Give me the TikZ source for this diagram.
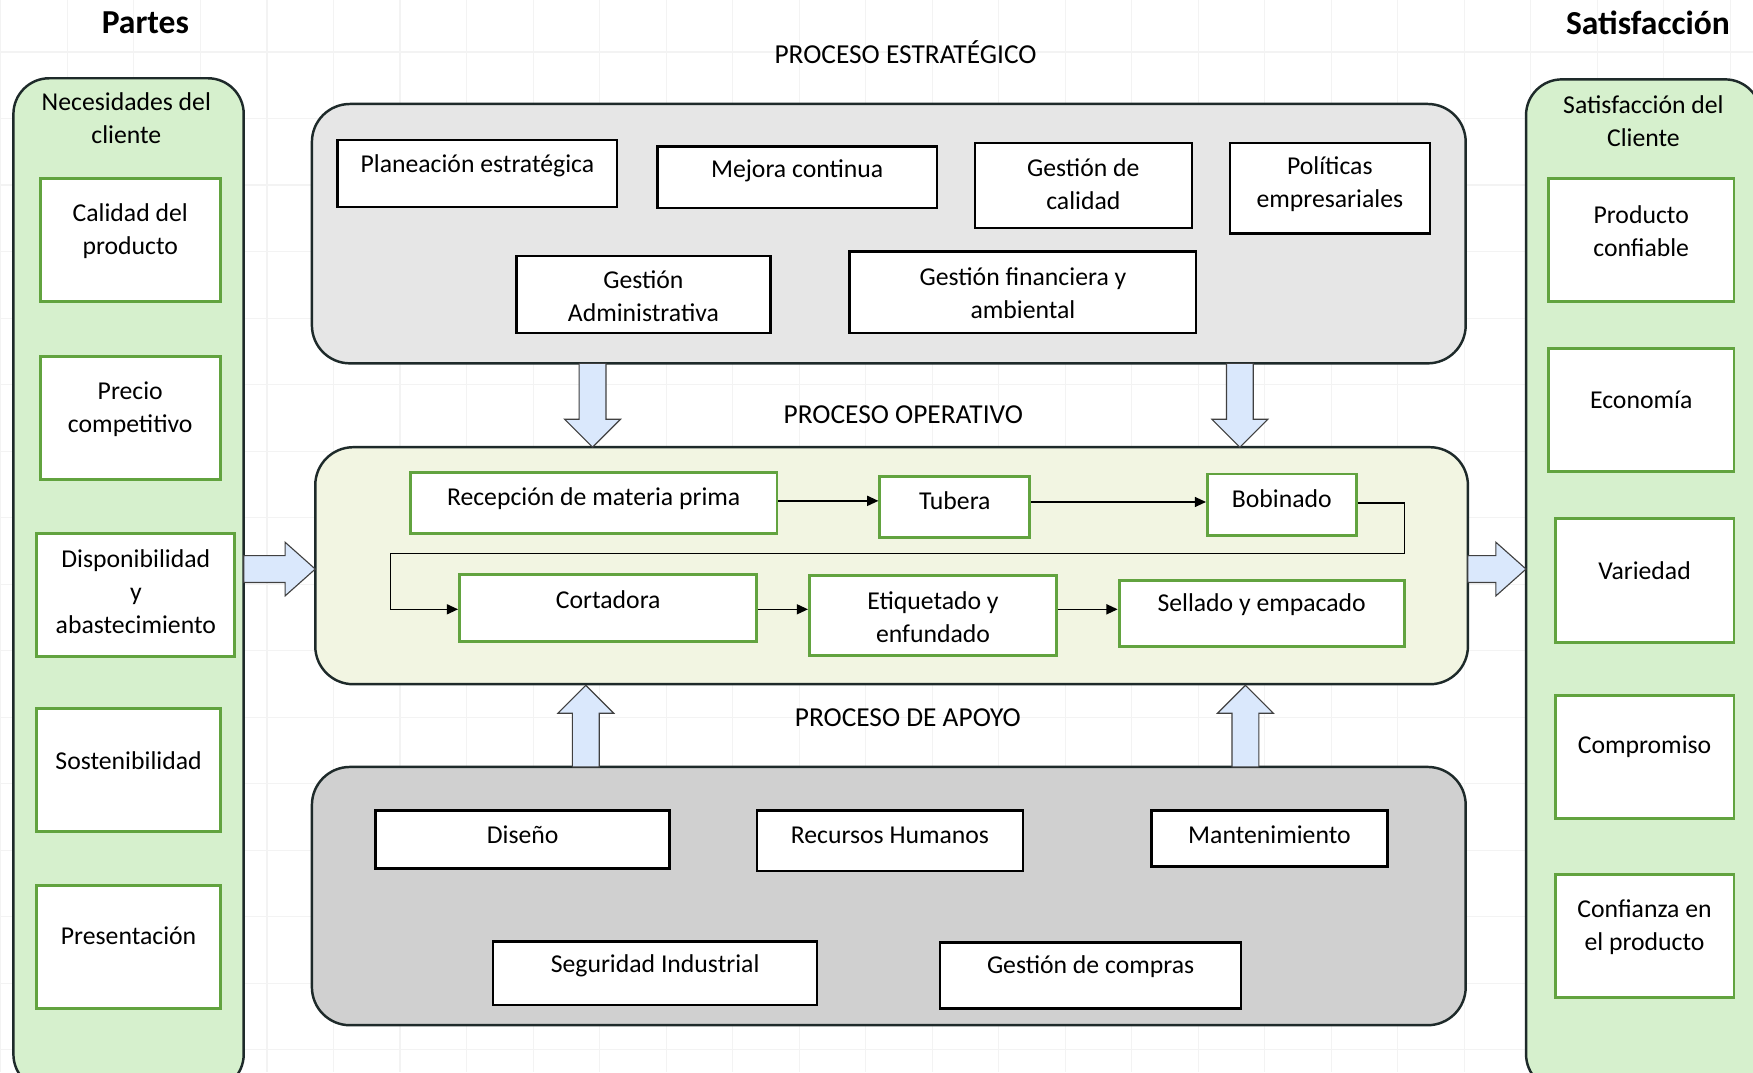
\documentclass[tikz,border=0pt]{standalone}
\usepackage{fontspec}
\setmainfont{Carlito}
\usetikzlibrary{arrows.meta,fit,calc}

\definecolor{greenfill}{HTML}{D6F0CD}
\definecolor{greenline}{HTML}{62A33F}
\definecolor{stratfill}{HTML}{E6E6E6}
\definecolor{operfill}{HTML}{F2F5E2}
\definecolor{apoyofill}{HTML}{D0D0D0}
\definecolor{frame}{HTML}{1E2A2A}
\definecolor{blockfill}{HTML}{DAE8FC}
\definecolor{gridline}{HTML}{F3F3F3}

% a box given by its corners, plus its label placed at a given height
\newcommand\boxat[8]{%
  \node[#2, fit={(#3,#4) (#5,#6)}, inner sep=0pt] (#1) {};
  \node[txt] (#1-t) at ({(#3+#5)/2},#7) {#8};
}
% vertical block arrow: x, tail y, tip y
\newcommand\vblock[3]{%
  \draw[blk] ({#1-12},#2) -- ({#1-12},{#3-25*sign(#3-#2)}) -- ({#1-25},{#3-25*sign(#3-#2)})
    -- (#1,#3) -- ({#1+25},{#3-25*sign(#3-#2)}) -- ({#1+12},{#3-25*sign(#3-#2)})
    -- ({#1+12},#2) -- cycle;
}
% horizontal block arrow: y, tail x, tip x
\newcommand\hblock[3]{%
  \draw[blk] (#2,{#1-12}) -- ({#3-27},{#1-12}) -- ({#3-27},{#1-24})
    -- (#3,#1) -- ({#3-27},{#1+24}) -- ({#3-27},{#1+12})
    -- (#2,{#1+12}) -- cycle;
}

\tikzset{
  txt/.style={align=center, inner sep=0pt, font=\fontsize{23}{29.5}\selectfont},
  head/.style={inner sep=0pt, font=\fontsize{30}{34}\selectfont\bfseries},
  ptitle/.style={inner sep=0pt, font=\fontsize{24.5}{28}\selectfont},
  column/.style={draw=frame, line width=2.2pt, fill=greenfill, rounded corners=32pt},
  proc/.style={draw=frame, line width=2.2pt, rounded corners=34pt},
  gbox/.style={draw=greenline, line width=2.6pt, fill=white},
  kbox/.style={draw=black, line width=2.2pt, fill=white},
  flow/.style={draw=black, line width=1.2pt, -{Triangle[length=10pt,width=9pt]}},
  blk/.style={draw=black!75, line width=1pt, fill=blockfill},
}

\begin{document}
\begin{tikzpicture}[x=1pt, y=-1pt]
\useasboundingbox (0,0) rectangle (1568,959);
\fill[white] (0,0) rectangle (1568,959);

% faint background grid
\foreach \gx in {0.8,60.3,...,1568} \draw[gridline, line width=1pt] (\gx,0) -- (\gx,959);
\foreach \gy in {46.5,106,...,959} \draw[gridline, line width=1pt] (0,\gy) -- (1568,\gy);

% headings
\node[head] (partes) at (130,20) {Partes};
\node[head] (satis) at (1474,20) {Satisfacción};
\node[ptitle] (tstrat) at (810,47) {PROCESO ESTRATÉGICO};
\node[ptitle] (toper) at (808,371) {PROCESO OPERATIVO};
\node[ptitle] (tapoyo) at (812,642) {PROCESO DE APOYO};

% client columns
\node[column, fit={(12,70) (218,975)}, inner sep=0pt] (needs) {};
\node[txt] (needs-t) at (113,106) {Necesidades del\\cliente};
\node[column, fit={(1365,71) (1575,975)}, inner sep=0pt] (sat) {};
\node[txt] (sat-t) at (1470,108) {Satisfacción del\\Cliente};

\boxat{n1}{gbox}{36}{160}{197}{270}{207}{Calidad del\\producto}
\boxat{n2}{gbox}{36}{319}{197}{429}{366}{Precio\\competitivo}
\boxat{n3}{gbox}{33}{477}{210}{587}{529}{Disponibilidad\\y\\abastecimiento}
\boxat{n4}{gbox}{33}{634}{197}{744}{680}{Sostenibilidad}
\boxat{n5}{gbox}{33}{792}{197}{902}{837}{Presentación}

\boxat{s1}{gbox}{1385}{160}{1551}{270}{207}{Producto\\confiable}
\boxat{s2}{gbox}{1385}{312}{1551}{422}{358}{Economía}
\boxat{s3}{gbox}{1391}{464}{1551}{575}{510}{Variedad}
\boxat{s4}{gbox}{1391}{622}{1551}{732}{668}{Compromiso}
\boxat{s5}{gbox}{1391}{782}{1551}{892}{829}{Confianza en\\el producto}

% strategic process
\node[proc, fill=stratfill, fit={(279,93) (1311,325)}, inner sep=0pt] (strat) {};
\boxat{e1}{kbox}{302}{125}{552}{185}{148}{Planeación estratégica}
\boxat{e2}{kbox}{588}{131}{838}{186}{153}{Mejora continua}
\boxat{e3}{kbox}{872}{128}{1066}{204}{165}{Gestión de\\calidad}
\boxat{e4}{kbox}{1100}{128}{1279}{209}{165}{Políticas\\empresariales}
\boxat{e5}{kbox}{462}{229}{689}{298}{265}{Gestión\\Administrativa}
\boxat{e6}{kbox}{760}{225}{1070}{298}{262}{Gestión financiera y\\ambiental}

% operative process
\node[proc, fill=operfill, fit={(282,400) (1313,612)}, inner sep=0pt] (oper) {};
\boxat{recep}{gbox}{367}{423}{695}{477}{446}{Recepción de materia prima}
\boxat{tub}{gbox}{787}{426}{921}{481}{448}{Tubera}
\boxat{bob}{gbox}{1080}{424}{1213}{479}{446}{Bobinado}
\boxat{cort}{gbox}{411}{514}{677}{574}{536}{Cortadora}
\boxat{etiq}{gbox}{724}{515}{945}{586}{552}{Etiquetado y\\enfundado}
\boxat{sell}{gbox}{1001}{519}{1256}{578}{541}{Sellado y empacado}

\coordinate (loopR) at (1256,495);
\coordinate (loopL) at (349,495);
\draw[flow] (recep.east |- 0,448) -- (tub.west |- 0,448);
\draw[flow] (tub.east |- 0,449) -- (bob.west |- 0,449);
\draw[flow] (bob.east |- 0,450) -| (loopR) -- (loopL) |- (cort.west |- 0,545);
\draw[flow] (cort.east |- 0,545) -- (etiq.west |- 0,545);
\draw[flow] (etiq.east |- 0,545) -- (sell.west |- 0,545);

% support process
\node[proc, fill=apoyofill, fit={(279,686) (1311,917)}, inner sep=0pt] (apoyo) {};
\boxat{a1}{kbox}{336}{725}{599}{777}{747}{Diseño}
\boxat{a2}{kbox}{677}{725}{915}{779}{747}{Recursos Humanos}
\boxat{a3}{kbox}{1030}{725}{1241}{775}{747}{Mantenimiento}
\boxat{a4}{kbox}{441}{842}{731}{899}{864}{Seguridad Industrial}
\boxat{a5}{kbox}{841}{843}{1110}{902}{865}{Gestión de compras}

% block arrows between the groups
\vblock{530}{325}{400}
\vblock{1109}{325}{400}
\vblock{524}{686}{613}
\vblock{1114}{686}{613}
\hblock{509}{218}{282}
\hblock{509}{1313}{1365}
\end{tikzpicture}
\end{document}
